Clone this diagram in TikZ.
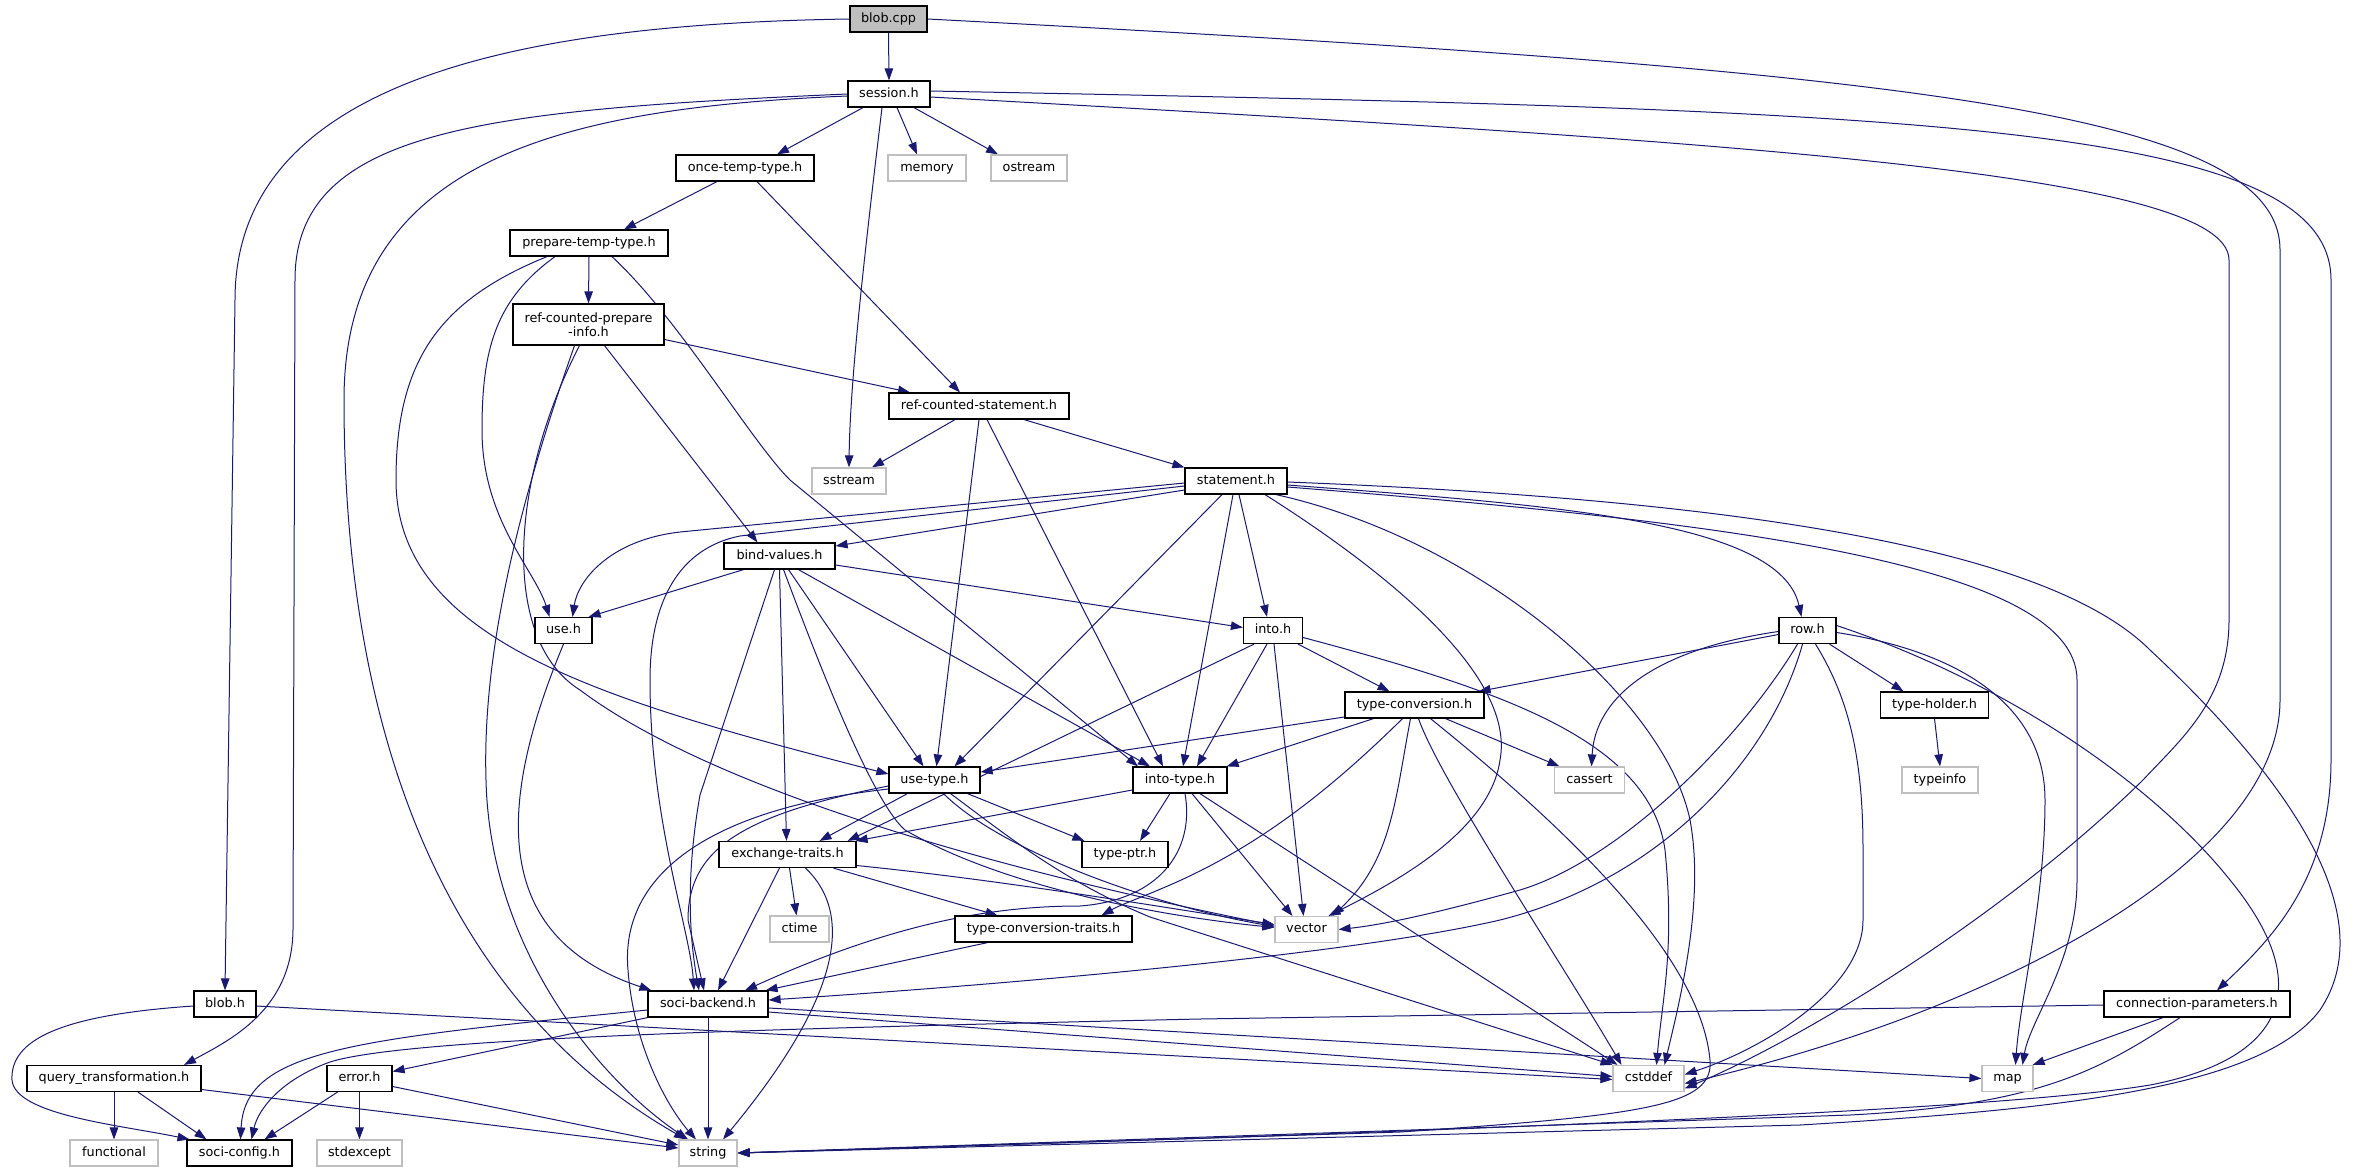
\documentclass[tikz,border=0pt]{standalone}
\usepackage{fontspec}
\setmainfont{DejaVu Sans}
\usetikzlibrary{arrows.meta,backgrounds}
\definecolor{edgec}{RGB}{25,25,112}
\definecolor{extc}{RGB}{191,191,191}
\tikzset{
 ndbase/.style={draw=black, line width=1.2pt, fill=white, minimum height=26pt, inner xsep=2pt, inner ysep=0pt, font=\fontsize{12.8}{14.5}\selectfont},
 nd/.style={ndbase, text height=9.3pt, text depth=2.9pt},
 xnd/.style={nd, draw=extc},
 lnk/.style={draw=edgec, line width=1pt, -{Triangle[length=12pt,width=8.5pt]}},
}
\begin{document}
\begin{tikzpicture}[x=1pt,y=-1pt]
\useasboundingbox (0,0) rectangle (2361,1172);
% nodes
\node[nd, fill=extc, minimum width=77pt] (bcpp) at (888.5,19) {blob.cpp};
\node[nd, minimum width=82pt] (ses) at (889,94) {session.h};
\node[nd, minimum width=138pt] (otmp) at (745,168) {once-temp-type.h};
\node[xnd, minimum width=78pt] (mem) at (927,168) {memory};
\node[xnd, minimum width=76pt] (ost) at (1029,168) {ostream};
\node[nd, minimum width=158pt] (ptt) at (589,243) {prepare-temp-type.h};
\node[ndbase, minimum width=151pt, minimum height=41pt, align=center] (rcpi) at (588.5,324.5) {ref-counted-prepare\\-info.h};
\node[nd, minimum width=180pt] (rcs) at (979,406) {ref-counted-statement.h};
\node[xnd, minimum width=74pt] (sst) at (849,481) {sstream};
\node[nd, minimum width=102pt] (stm) at (1236,481) {statement.h};
\node[nd, minimum width=111pt] (bv) at (779.5,556) {bind-values.h};
\node[nd, minimum width=57pt] (use) at (563.5,630.5) {use.h};
\node[nd, minimum width=59pt] (into) at (1273,630.5) {into.h};
\node[nd, minimum width=57pt] (row) at (1807.5,630.5) {row.h};
\node[nd, minimum width=139pt] (tcv) at (1414.5,705) {type-conversion.h};
\node[nd, minimum width=108pt] (thd) at (1934.5,705) {type-holder.h};
\node[xnd, minimum width=70pt] (cas) at (1589.5,780) {cassert};
\node[xnd, minimum width=76pt] (tin) at (1940,780) {typeinfo};
\node[nd, minimum width=91pt] (ut) at (934.5,780) {use-type.h};
\node[nd, minimum width=94pt] (itp) at (1180,780) {into-type.h};
\node[nd, minimum width=137pt] (ext) at (787.5,854.5) {exchange-traits.h};
\node[nd, minimum width=86pt] (tpt) at (1125,854.5) {type-ptr.h};
\node[xnd, minimum width=59pt] (ctm) at (799.5,929) {ctime};
\node[nd, minimum width=177pt] (tct) at (1043.5,929) {type-conversion-traits.h};
\node[xnd, minimum width=63pt] (vec) at (1306.5,929.5) {vector};
\node[nd, minimum width=120pt] (sbk) at (708,1004) {soci-backend.h};
\node[nd, minimum width=62pt] (blbh) at (225,1004) {blob.h};
\node[nd, minimum width=186pt] (cpar) at (2197,1004) {connection-parameters.h};
\node[nd, minimum width=174pt] (qt) at (114,1078.5) {query\_transformation.h};
\node[nd, minimum width=65pt] (err) at (359.5,1078.5) {error.h};
\node[xnd, minimum width=71pt] (cst) at (1648.5,1078.5) {cstddef};
\node[xnd, minimum width=51pt] (map) at (2007.5,1078.5) {map};
\node[xnd, minimum width=88pt] (fnc) at (114,1153) {functional};
\node[nd, minimum width=105pt] (scfg) at (239.5,1153) {soci-config.h};
\node[xnd, minimum width=85pt] (sexc) at (359.5,1153) {stdexcept};
\node[xnd, minimum width=58pt] (str) at (708,1153) {string};

\begin{scope}[on background layer]
% blob.cpp
\draw[lnk] (bcpp.south) -- (ses.north);
\draw[lnk] (bcpp.west) .. controls (520,24) and (235,80) .. (235,300) -- (blbh.north);
\draw[lnk] (bcpp.east) .. controls (1900,70) and (2280,110) .. (2280,250) -- (2280,700) .. controls (2280,860) and (2000,1010) .. ([yshift=-5pt]cst.east);
% session.h
\draw[lnk] ([xshift=-26pt]ses.south) -- ([xshift=32pt]otmp.north);
\draw[lnk] ([xshift=8pt]ses.south) -- ([xshift=-10pt]mem.north);
\draw[lnk] ([xshift=25pt]ses.south) -- ([xshift=-31pt]ost.north);
\draw[lnk] ([xshift=-7pt]ses.south) .. controls (865,250) and (850,380) .. (sst.north);
\draw[lnk] ([yshift=-2pt]ses.west) .. controls (560,108) and (344,160) .. (344,400) .. controls (344,760) and (460,1010) .. ([xshift=-22pt]str.north);
\draw[lnk] (ses.west) .. controls (480,110) and (295,130) .. (295,280) -- (293,930) .. controls (292,1010) and (230,1040) .. ([xshift=70pt]qt.north);
\draw[lnk] ([yshift=3pt]ses.east) .. controls (1900,110) and (2331,120) .. (2331,280) -- (2331,760) .. controls (2331,880) and (2270,940) .. ([xshift=20pt]cpar.north);
\draw[lnk] ([yshift=-3pt]ses.east) .. controls (1700,140) and (2229,170) .. (2229,260) -- (2229,620) .. controls (2229,700) and (2180,740) .. (2143,780) .. controls (2000,920) and (1800,1040) .. ([yshift=-10pt]cst.east);
% once-temp-type.h
\draw[lnk] ([xshift=-28pt]otmp.south) -- ([xshift=35pt]ptt.north);
\draw[lnk] ([xshift=12pt]otmp.south) -- ([xshift=-19pt]rcs.north);
% prepare-temp-type.h
\draw[lnk] (ptt.south) -- (rcpi.north);
\draw[lnk] ([xshift=-42pt]ptt.south) .. controls (440,300) and (396,360) .. (396,480) .. controls (396,640) and (600,700) .. ([yshift=6pt]ut.west);
\draw[lnk] ([xshift=-34pt]ptt.south) .. controls (495,300) and (482,350) .. (482,430) .. controls (482,520) and (535,570) .. ([xshift=-14pt]use.north);
\draw[lnk] ([xshift=23pt]ptt.south) .. controls (680,320) and (750,440) .. (790,480) -- ([xshift=-42pt]itp.north);
% ref-counted-prepare-info.h
\draw[lnk] ([yshift=-15pt]rcpi.east) -- ([xshift=-69pt]rcs.north);
\draw[lnk] ([xshift=16pt]rcpi.south) -- ([xshift=-22pt]bv.north);
\draw[lnk] ([xshift=-14pt]rcpi.south) .. controls (520,500) and (482,650) .. (486,780) .. controls (490,950) and (600,1080) .. ([xshift=-20pt]str.north);
\draw[lnk] ([xshift=-9pt]rcpi.south) .. controls (510,480) and (500,640) .. (580,690) .. controls (700,780) and (950,860) .. ([yshift=4pt]vec.west);
% ref-counted-statement.h
\draw[lnk] ([xshift=-24pt]rcs.south) -- ([xshift=23pt]sst.north);
\draw[lnk] ([xshift=45pt]rcs.south) -- (stm.north west);
\draw[lnk] (rcs.south) -- ([xshift=2pt]ut.north);
\draw[lnk] ([xshift=8pt]rcs.south) -- ([xshift=-17pt]itp.north);
% statement.h
\draw[lnk] ([yshift=-9pt]stm.west) -- ([yshift=10pt]bv.east);
\draw[lnk] ([yshift=-2pt]stm.west) -- (680,532) .. controls (610,540) and (578,580) .. ([xshift=9pt]use.north);
\draw[lnk] ([yshift=-5pt]stm.west) -- (740,536) .. controls (680,548) and (650,600) .. (650,680) .. controls (650,820) and (690,930) .. ([xshift=-14pt]sbk.north);
\draw[lnk] ([xshift=-14pt]stm.south) -- ([xshift=20pt]ut.north);
\draw[lnk] ([xshift=-3pt]stm.south) -- ([xshift=3pt]itp.north);
\draw[lnk] ([xshift=3pt]stm.south) -- ([xshift=-6pt]into.north);
\draw[lnk] ([yshift=-4pt]stm.east) .. controls (1550,505) and (1780,520) .. ([xshift=-6pt]row.north);
\draw[lnk] ([xshift=29pt]stm.south) .. controls (1400,580) and (1515,680) .. (1500,760) .. controls (1490,830) and (1400,880) .. ([xshift=22pt]vec.north);
\draw[lnk] ([xshift=40pt]stm.south) .. controls (1480,540) and (1665,700) .. (1690,820) .. controls (1705,900) and (1680,1000) .. ([xshift=16pt]cst.north);
\draw[lnk] ([yshift=-6pt]stm.east) .. controls (1700,520) and (2077,560) .. (2077,680) -- (2077,880) .. controls (2077,960) and (2030,1020) .. ([xshift=15pt]map.north);
\draw[lnk] ([yshift=-1pt]stm.east) .. controls (1750,500) and (2050,550) .. (2150,650) .. controls (2300,790) and (2380,920) .. (2320,1010) .. controls (2260,1090) and (2050,1110) .. (1800,1125) -- (str.east);
% bind-values.h
\draw[lnk] ([xshift=-36pt]bv.south) -- ([xshift=-4pt]use.north east);
\draw[lnk] ([yshift=-9pt]bv.east) -- ([yshift=3pt]into.west);
\draw[lnk] ([xshift=9pt]bv.south) -- ([xshift=-11pt]ut.north);
\draw[lnk] ([xshift=19pt]bv.south) -- ([xshift=-30pt]itp.north);
\draw[lnk] (bv.south) -- ([xshift=-1pt]ext.north);
\draw[lnk] ([xshift=-5pt]bv.south) -- (700,795) .. controls (685,880) and (690,940) .. ([xshift=-9pt]sbk.north);
\draw[lnk] ([xshift=4pt]bv.south) .. controls (810,640) and (870,800) .. (905,830) .. controls (1000,885) and (1150,915) .. ([yshift=2pt]vec.west);
% use.h
\draw[lnk] (use.south) .. controls (490,820) and (500,940) .. ([xshift=4pt]sbk.north west);
% into.h
\draw[lnk] ([xshift=25pt]into.south) -- ([xshift=-25pt]tcv.north);
\draw[lnk] ([xshift=-6pt]into.south) -- ([xshift=17pt]itp.north);
\draw[lnk] ([xshift=-19pt]into.south) -- ([xshift=-9pt]ext.north east);
\draw[lnk] ([xshift=1pt]into.south) -- ([xshift=-3pt]vec.north);
\draw[lnk] ([yshift=-7pt]into.east) .. controls (1500,690) and (1650,740) .. (1665,850) .. controls (1675,950) and (1662,1000) .. ([xshift=8pt]cst.north);
% row.h
\draw[lnk] ([yshift=-4pt]row.west) -- ([xshift=-6pt]tcv.north east);
\draw[lnk] ([xshift=22pt]row.south) -- ([xshift=-31pt]thd.north);
\draw[lnk] ([yshift=-1pt]row.west) .. controls (1650,650) and (1595,700) .. ([xshift=2pt]cas.north);
\draw[lnk] ([xshift=-10pt]row.south) .. controls (1740,740) and (1620,860) .. (1520,890) .. controls (1430,915) and (1380,925) .. (vec.east);
\draw[lnk] ([xshift=-5pt]row.south) .. controls (1770,760) and (1660,880) .. (1500,920) .. controls (1350,955) and (1000,985) .. ([yshift=4pt]sbk.east);
\draw[lnk] ([xshift=8pt]row.south) .. controls (1850,700) and (1863,760) .. (1863,850) -- (1863,920) .. controls (1863,990) and (1760,1050) .. ([yshift=4pt]cst.east);
\draw[lnk] ([yshift=-2pt]row.east) .. controls (1950,650) and (2045,700) .. (2045,800) .. controls (2045,900) and (2020,1000) .. ([xshift=8pt]map.north);
\draw[lnk] ([yshift=5pt]row.east) .. controls (2000,680) and (2150,780) .. (2230,880) .. controls (2320,990) and (2280,1060) .. (2150,1085) .. controls (2000,1110) and (1500,1130) .. (str.east);
% type-holder.h
\draw[lnk] (thd.south) -- (tin.north);
% type-conversion.h
\draw[lnk] ([yshift=-12pt]tcv.west) -- ([yshift=8pt]ut.east);
\draw[lnk] ([xshift=-41pt]tcv.south) -- ([xshift=-1pt]itp.north east);
\draw[lnk] ([xshift=31pt]tcv.south) -- ([xshift=-30pt]cas.north);
\draw[lnk] ([xshift=-12pt]tcv.south) .. controls (1320,800) and (1250,850) .. (1170,885) .. controls (1140,898) and (1120,905) .. ([xshift=58pt]tct.north);
\draw[lnk] ([xshift=-4pt]tcv.south) .. controls (1395,800) and (1392,860) .. ([xshift=26pt]vec.north);
\draw[lnk] ([xshift=4pt]tcv.south) .. controls (1440,780) and (1560,960) .. ([xshift=-27pt]cst.north);
\draw[lnk] ([xshift=16pt]tcv.south) .. controls (1550,815) and (1700,950) .. (1710,1060) .. controls (1714,1105) and (1650,1115) .. (1400,1132) -- (str.east);
% use-type.h
\draw[lnk] ([xshift=-27pt]ut.south) -- ([xshift=32pt]ext.north);
\draw[lnk] ([xshift=33pt]ut.south) -- ([xshift=3pt]tpt.north west);
\draw[lnk] ([yshift=-6pt]ut.west) .. controls (740,815) and (688,850) .. (688,920) -- ([xshift=-4pt]sbk.north);
\draw[lnk] ([yshift=-9pt]ut.west) .. controls (700,810) and (620,880) .. (628,970) .. controls (634,1050) and (670,1110) .. ([xshift=-12pt]str.north);
\draw[lnk] ([xshift=9pt]ut.south) .. controls (1000,850) and (1150,905) .. ([yshift=3pt]vec.west);
\draw[lnk] ([xshift=16pt]ut.south) .. controls (1000,830) and (1060,880) .. (1150,917) -- ([xshift=-36pt]cst.north);
% into-type.h
\draw[lnk] ([yshift=-10pt]itp.west) -- ([xshift=-1pt]ext.north east);
\draw[lnk] ([xshift=-10pt]itp.south) -- ([xshift=15pt]tpt.north);
\draw[lnk] ([xshift=5pt]itp.south) .. controls (1195,850) and (1160,900) .. (1080,906) .. controls (1000,906) and (900,920) .. ([xshift=37pt]sbk.north);
\draw[lnk] ([xshift=12pt]itp.south) -- ([xshift=-14pt]vec.north);
\draw[lnk] ([xshift=20pt]itp.south) -- ([xshift=-31pt]cst.north);
% exchange-traits.h
\draw[lnk] ([xshift=-8pt]ext.south) -- ([xshift=10pt]sbk.north);
\draw[lnk] ([xshift=2pt]ext.south) -- ([xshift=-3pt]ctm.north);
\draw[lnk] ([xshift=18pt]ext.south) .. controls (860,920) and (830,1010) .. ([xshift=15pt]str.north);
\draw[lnk] ([xshift=46pt]ext.south) -- ([xshift=-46pt]tct.north);
\draw[lnk] ([yshift=-11pt]ext.east) .. controls (1000,880) and (1150,905) .. ([yshift=5pt]vec.west);
% type-conversion-traits.h
\draw[lnk] ([xshift=-56pt]tct.south) -- ([xshift=-3pt]sbk.north east);
% soci-backend.h
\draw[lnk] ([yshift=-6pt]sbk.west) .. controls (350,1040) and (245,1050) .. ([xshift=1pt]scfg.north);
\draw[lnk] (sbk.south west) -- ([yshift=7pt]err.east);
\draw[lnk] (sbk.south) -- (str.north);
\draw[lnk] ([yshift=-8pt]sbk.east) -- ([yshift=2pt]cst.west);
\draw[lnk] ([yshift=-4pt]sbk.east) -- (map.west);
% blob.h
\draw[lnk] ([yshift=-2pt]blbh.west) .. controls (60,1015) and (10,1040) .. (12,1080) .. controls (15,1115) and (120,1125) .. ([xshift=-50pt]scfg.north);
\draw[lnk] ([yshift=-2pt]blbh.east) -- ([yshift=-1pt]cst.west);
% query_transformation.h
\draw[lnk] (qt.south) -- (fnc.north);
\draw[lnk] ([xshift=24pt]qt.south) -- ([xshift=-33pt]scfg.north);
\draw[lnk] ([yshift=-11pt]qt.east) -- ([yshift=5pt]str.west);
% error.h
\draw[lnk] ([xshift=-22pt]err.south) -- ([xshift=25pt]scfg.north);
\draw[lnk] (err.south) -- (sexc.north);
\draw[lnk] ([yshift=-8pt]err.east) -- ([yshift=8pt]str.west);
% connection-parameters.h
\draw[lnk] ([xshift=-34pt]cpar.south) -- ([xshift=-1pt]map.north east);
\draw[lnk] ([xshift=-17pt]cpar.south) .. controls (2100,1070) and (2040,1105) .. (1850,1115) -- (str.east);
\draw[lnk] ([yshift=-1pt]cpar.west) -- (1200,1019) .. controls (700,1030) and (400,1040) .. (330,1062) .. controls (280,1080) and (258,1110) .. ([xshift=12pt]scfg.north);
\end{scope}
\end{tikzpicture}
\end{document}
